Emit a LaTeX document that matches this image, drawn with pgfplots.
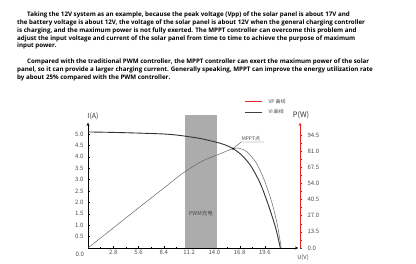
\documentclass[border=0pt]{standalone}
\usepackage{fontspec}
\setmainfont{Open Sans}
\newfontfamily\cjk{Noto Sans CJK SC}
\usepackage{pgfplots}
\pgfplotsset{compat=1.18}
\usetikzlibrary{arrows.meta}
\definecolor{tickgray}{RGB}{75,75,75}
\definecolor{vpred}{RGB}{225,40,40}
\definecolor{pwmgray}{RGB}{172,172,172}
\newcommand{\para}[1]{\fontsize{6.2bp}{7.8bp}\selectfont\bfseries #1}
\begin{document}
\begin{tikzpicture}[x=1bp,y=1bp]
\path[use as bounding box] (0,0) rectangle (416,264);
% paragraph text
\foreach \yy/\xx/\txt in {
14/27/{Taking the 12V system as an example, because the peak voltage (Vpp) of the solar panel is about 17V and},
21.8/17/{the battery voltage is about 12V, the voltage of the solar panel is about 12V when the general charging controller},
29.6/17/{is charging, and the maximum power is not fully exerted. The MPPT controller can overcome this problem and},
37.4/17/{adjust the input voltage and current of the solar panel from time to time to achieve the purpose of maximum},
45.2/17/{input power.},
61.2/27/{Compared with the traditional PWM controller, the MPPT controller can exert the maximum power of the solar},
69/17/{panel, so it can provide a larger charging current. Generally speaking, MPPT can improve the energy utilization rate},
76.8/17/{by about 25\% compared with the PWM controller.}}
{\node[anchor=mid west, inner sep=0pt] at (\xx,264-\yy) {\para{\txt}};}

\begin{axis}[
  at={(88bp,16bp)}, anchor=origin, scale only axis,
  width=210.4bp, height=125.4bp,
  xmin=0, xmax=23.3, ymin=0, ymax=5.5,
  axis x line=bottom, axis y line=left,
  axis line style={-{Stealth[length=3.5bp,width=3bp]}, black, line width=0.6pt},
  xtick={0,2.8,5.6,8.4,11.2,14,16.8,19.6},
  xticklabels={,2.8,5.6,8.4,11.2,14.0,16.8,19.6},
  ytick={0.5,1,1.5,2,2.5,3,3.5,4,4.5,5},
  yticklabels={0.5,1.0,1.5,2.0,2.5,3.0,3.5,4.0,4.5,5.0},
  minor x tick num=1,
  tick align=inside, major tick length=2bp, minor tick length=1.5bp,
  tick style={black, line width=0.4pt},
  ticklabel style={font=\cjk\fontsize{6bp}{6.5bp}\selectfont, text=tickgray},
  xticklabel style={yshift=1bp},
  yticklabel style={xshift=-1bp},
  clip=false,
]
\fill[pwmgray] (axis cs:10.74,0) rectangle (axis cs:14.29,5.83);
\node[font=\cjk\fontsize{5.5bp}{6bp}\selectfont, text=tickgray] at (axis cs:12.5,1.53) {PWM充电};
% VP curve (thin)
\addplot[smooth, tension=0.5, color=black!60, line width=0.5pt] coordinates {
(0,0) (2.8,0.88) (5.6,1.76) (8.4,2.63) (10.5,3.28) (12.6,3.8) (14.3,4.08) (16.06,4.36) (16.8,4.37) (17.6,4.22) (18.6,3.75) (19.4,3.1) (20.0,2.45) (20.5,1.8) (21.0,0.95) (21.4,0)};
% VI curve (thick)
\addplot[smooth, tension=0.5, color=black!80, line width=0.9pt] coordinates {
(0,5.09) (2.8,5.07) (5.6,5.04) (8.4,5.0) (9.9,4.95) (11.2,4.88) (12.6,4.79) (14.3,4.63) (15.2,4.52) (16.06,4.36) (17.0,4.08) (18.0,3.62) (19.0,2.9) (19.6,2.3) (20.2,1.62) (20.8,0.85) (21.3,0)};
\addplot[only marks, mark=*, mark size=0.7pt, black] coordinates {(16.06,4.36)};
\draw[black!70, line width=0.4pt] (axis cs:16.06,4.36) -- (axis cs:16.95,4.65) -- (axis cs:19.5,4.65);
\node[font=\cjk\fontsize{5bp}{6bp}\selectfont, text=tickgray, anchor=south west, inner sep=0.5bp] at (axis cs:16.95,4.65) {MPPT点};
\node[font=\cjk\fontsize{6bp}{6.5bp}\selectfont, text=tickgray] at (axis cs:-0.9,-0.27) {0.0};
\end{axis}

\begin{axis}[
  at={(88bp,16bp)}, anchor=origin, scale only axis,
  width=212bp, height=125.4bp,
  xmin=0, xmax=23.3, ymin=0, ymax=104.8,
  axis x line=none, axis y line=right,
  axis line style={-{Stealth[length=3.5bp,width=3bp]}, vpred, line width=0.8pt},
  ytick={0,13.5,27,40.5,54,67.5,81,94.5},
  yticklabels={0.0,13.5,27.0,40.5,54.0,67.5,81.0,94.5},
  minor y tick num=1,
  tick align=outside, major tick length=2bp, minor tick length=1.5bp,
  tick style={black!70, line width=0.4pt},
  ticklabel style={font=\cjk\fontsize{6bp}{6.5bp}\selectfont, text=tickgray},
  yticklabel style={xshift=2bp},
]
\end{axis}

% axis titles
\node[font=\cjk\fontsize{7bp}{8bp}\selectfont, text=black!80] at (93,148) {I(A)};
\node[font=\cjk\fontsize{7.5bp}{8bp}\selectfont, text=black!80] at (301,149) {P(W)};
\node[font=\cjk\fontsize{5.8bp}{6bp}\selectfont, text=tickgray] at (303,6) {U(V)};
% legend
\draw[vpred, line width=0.5pt] (245,162.5) -- (262,162.5);
\node[font=\cjk\fontsize{5bp}{6bp}\selectfont, text=tickgray, anchor=west] at (265,162.5) {VP 曲线};
\draw[black!75, line width=0.5pt] (245,152) -- (262,152);
\node[font=\cjk\fontsize{5bp}{6bp}\selectfont, text=tickgray, anchor=west] at (265,152) {VI 曲线};
\end{tikzpicture}
\end{document}
